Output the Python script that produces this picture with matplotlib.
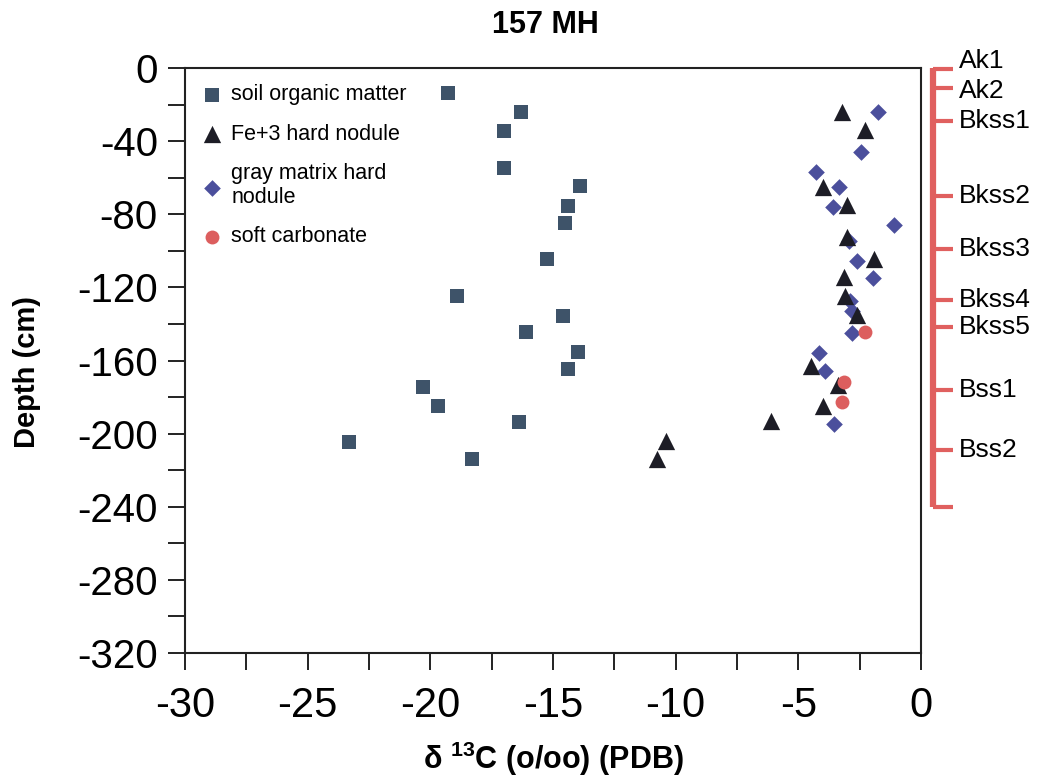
import matplotlib
matplotlib.use("Agg")
import matplotlib.pyplot as plt
import matplotlib.transforms as mtransforms
from matplotlib.ticker import MultipleLocator

plt.rcParams['font.family'] = ['Liberation Sans', 'DejaVu Sans']
plt.rcParams['mathtext.fontset'] = 'custom'
plt.rcParams['mathtext.rm'] = 'Liberation Sans'
plt.rcParams['mathtext.bf'] = 'Liberation Sans:bold'
plt.rcParams['axes.unicode_minus'] = False

# d13C values (per mil) and depths (cm)
som_d13c = [-19.3, -16.3, -17.0, -17.0, -13.9, -14.4, -14.5, -15.25, -18.9,
            -14.6, -16.1, -14.0, -14.4, -20.3, -19.7, -16.4, -23.3, -18.3]
som_depth = [-13.8, -24.2, -34.5, -54.5, -64.4, -75.3, -85.0, -104.5, -124.7,
             -135.5, -144.3, -155.2, -164.8, -174.7, -184.7, -193.8, -204.4, -213.9]

fe_d13c = [-3.2, -2.3, -4.0, -3.0, -3.0, -1.9, -3.15, -3.1, -2.6,
           -4.5, -3.4, -4.0, -6.1, -10.4, -10.75]
fe_depth = [-23.9, -33.9, -64.9, -74.9, -92.3, -104.6, -114.5, -124.7, -135.1,
            -163.0, -173.4, -184.7, -192.9, -204.0, -213.9]

gray_d13c = [-1.75, -2.45, -4.3, -3.35, -3.6, -1.1, -2.95, -2.6, -1.95,
             -2.9, -2.8, -2.8, -4.15, -3.9, -3.55]
gray_depth = [-24.2, -45.8, -56.7, -65.3, -75.9, -85.9, -94.5, -105.6, -115.0,
              -127.3, -132.8, -144.8, -156.1, -165.6, -194.9]

soft_d13c = [-2.3, -3.15, -3.2]
soft_depth = [-144.3, -171.6, -182.5]

# soil horizons drawn on the right-hand bar
horizon_names = ["Ak1", "Ak2", "Bkss1", "Bkss2", "Bkss3", "Bkss4", "Bkss5", "Bss1", "Bss2", ""]
horizon_depths = [-0.5, -11, -29, -70, -99, -127, -141.5, -176, -209, -240]
# small nudges so the two tight top labels do not collide
label_nudge = {"Ak1": 4.5, "Ak2": -1.5}

fig = plt.figure(figsize=(10.52, 7.78), dpi=100)
ax = fig.add_axes([185/1052, 1 - 653/778, (921 - 185)/1052, (653 - 68)/778])

ax.scatter(som_d13c, som_depth, marker="s", s=105, color="#3e5369",
           linewidths=0, label="soil organic matter", zorder=3)
ax.scatter(fe_d13c, fe_depth, marker="^", s=155, color="#1d1d26",
           linewidths=0, label="Fe+3 hard nodule", zorder=4)
ax.scatter(gray_d13c, gray_depth, marker="D", s=72, color="#4b4f9c",
           linewidths=0, label="gray matrix hard\nnodule", zorder=3)
ax.scatter(soft_d13c, soft_depth, marker="o", s=100, color="#dc5e5e",
           linewidths=0, label="soft carbonate", zorder=5)

ax.set_xlim(-30, 0)
ax.set_ylim(-320, 0)
ax.xaxis.set_major_locator(MultipleLocator(5))
ax.xaxis.set_minor_locator(MultipleLocator(2.5))
ax.yaxis.set_major_locator(MultipleLocator(40))
ax.yaxis.set_minor_locator(MultipleLocator(20))
ax.tick_params(axis="both", which="both", direction="out", length=12.5, width=1.4, color="#222222")
ax.tick_params(axis="x", which="major", labelsize=30, pad=11)
ax.tick_params(axis="y", which="major", labelsize=29, pad=7)
for sp in ax.spines.values():
    sp.set_linewidth(1.5)
    sp.set_color("#222222")

ax.set_xlabel(r"δ $^{\mathbf{13}}$C (o/oo) (PDB)", fontsize=22, fontweight="bold", labelpad=10)
ax.set_ylabel("Depth (cm)", fontsize=21, fontweight="bold", labelpad=14)
ax.yaxis.set_label_coords(-0.195, 0.48)
fig.text(545/1052, 1 - 33/778, "157 MH", ha="center", va="baseline",
         fontsize=22, fontweight="bold")

leg = ax.legend(loc="upper left", bbox_to_anchor=(0.025, 0.972), frameon=False,
                fontsize=15.5, handlelength=0.8, handletextpad=0.5,
                borderpad=0, borderaxespad=0, labelspacing=0.85, scatterpoints=1)

# horizon bar on the right
trans = mtransforms.blended_transform_factory(ax.transAxes, ax.transData)
red = "#e0605f"
ax.plot([1.0163, 1.0163], [0, horizon_depths[-1]], transform=trans, color=red,
        lw=4.5, clip_on=False, solid_capstyle="butt")
for name, d in zip(horizon_names, horizon_depths):
    ax.plot([1.0163, 1.0435], [d, d], transform=trans, color=red, lw=3,
            clip_on=False, solid_capstyle="butt")
    if name:
        ax.text(1.0516, d + label_nudge.get(name, 0), name, transform=trans,
                fontsize=19, va="center", ha="left")

fig.savefig("out.png", dpi=100)
